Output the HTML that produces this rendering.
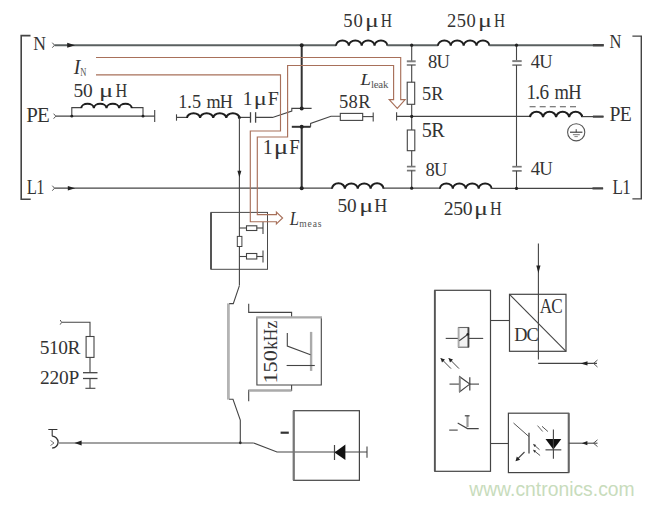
<!DOCTYPE html>
<html><head><meta charset="utf-8"><style>
html,body{margin:0;padding:0;background:#fff;}
svg{display:block;}
</style></head><body>
<svg width="653" height="507" viewBox="0 0 653 507">
<rect width="653" height="507" fill="#fff"/>
<path d="M30.5 35.6 H21.2 V199.2 H30.7" stroke="#444" stroke-width="1.6" fill="none" stroke-linejoin="miter" />
<path d="M632.4 36.1 H641.3 V198.9 H632.4" stroke="#444" stroke-width="1.4" fill="none" stroke-linejoin="miter" />
<text transform="translate(33.17,49.50) scale(0.9083,1)" font-family='"Liberation Serif", serif' font-style="normal" font-size="19.39" fill="#333" style="letter-spacing:0.00px">N</text>
<text transform="translate(26.17,121.70) scale(1.0000,1)" font-family='"Liberation Serif", serif' font-style="normal" font-size="20.92" fill="#333" style="letter-spacing:-0.69px">PE</text>
<text transform="translate(26.80,193.70) scale(0.8062,1)" font-family='"Liberation Serif", serif' font-style="normal" font-size="20.61" fill="#333" style="letter-spacing:-0.80px">L1</text>
<text transform="translate(609.60,48.40) scale(0.8478,1)" font-family='"Liberation Serif", serif' font-style="normal" font-size="19.54" fill="#333" style="letter-spacing:0.00px">N</text>
<text transform="translate(609.51,121.30) scale(0.9554,1)" font-family='"Liberation Serif", serif' font-style="normal" font-size="20.61" fill="#333" style="letter-spacing:-0.80px">PE</text>
<text transform="translate(612.49,194.00) scale(0.8388,1)" font-family='"Liberation Serif", serif' font-style="normal" font-size="20.30" fill="#333" style="letter-spacing:-0.80px">L1</text>
<path d="M52.3 42.7 L54.5 45.2 L52.3 47.7" stroke="#555" stroke-width="1" fill="none" stroke-linejoin="miter" />
<line x1="54.5" y1="45.2" x2="336" y2="45.2" stroke="#5a6060" stroke-width="2" />
<path d="M67.2 42.7 L75 45.2 L67.2 47.7 Z" fill="#222"/>
<path d="M336.00 45.70 A6.42 5.30 0 0 1 348.85 45.70 A6.42 5.30 0 0 1 361.70 45.70 A6.42 5.30 0 0 1 374.55 45.70 A6.42 5.30 0 0 1 387.40 45.70" stroke="#1e1e1e" stroke-width="2.0" fill="none" stroke-linejoin="miter" />
<line x1="387.4" y1="45.2" x2="437.9" y2="45.2" stroke="#5a6060" stroke-width="2" />
<path d="M437.90 45.70 A6.44 5.30 0 0 1 450.77 45.70 A6.44 5.30 0 0 1 463.65 45.70 A6.44 5.30 0 0 1 476.52 45.70 A6.44 5.30 0 0 1 489.40 45.70" stroke="#1e1e1e" stroke-width="2.0" fill="none" stroke-linejoin="miter" />
<line x1="489.4" y1="45.2" x2="603.5" y2="45.2" stroke="#5a6060" stroke-width="2" />
<line x1="592.9" y1="45.2" x2="603.8" y2="45.2" stroke="#444" stroke-width="2.4" />
<text transform="translate(343.28,26.50) scale(1.0000,1)" font-family='"Liberation Serif", serif' font-style="normal" font-size="18.65" fill="#333" style="letter-spacing:0.92px">50</text>
<text transform="translate(364.94,26.50) scale(1.3827,1)" font-family='"Liberation Serif", serif' font-style="normal" font-size="18.65" fill="#333" style="letter-spacing:0.00px">μ</text>
<text transform="translate(380.63,26.50) scale(0.8387,1)" font-family='"Liberation Serif", serif' font-style="normal" font-size="18.65" fill="#333" style="letter-spacing:0.00px">H</text>
<text transform="translate(447.07,26.60) scale(1.0000,1)" font-family='"Liberation Serif", serif' font-style="normal" font-size="18.50" fill="#333" style="letter-spacing:0.41px">250</text>
<text transform="translate(478.02,26.60) scale(1.4070,1)" font-family='"Liberation Serif", serif' font-style="normal" font-size="18.50" fill="#333" style="letter-spacing:0.00px">μ</text>
<text transform="translate(494.04,26.60) scale(0.8293,1)" font-family='"Liberation Serif", serif' font-style="normal" font-size="18.50" fill="#333" style="letter-spacing:0.00px">H</text>
<path d="M52.3 185.7 L54.5 188.2 L52.3 190.7" stroke="#555" stroke-width="1" fill="none" stroke-linejoin="miter" />
<line x1="54.5" y1="188.2" x2="332" y2="188.2" stroke="#444" stroke-width="1.3" />
<path d="M67.8 185.89999999999998 L75.2 188.2 L67.8 190.5 Z" fill="#222"/>
<path d="M332.00 188.70 A6.44 5.40 0 0 1 344.88 188.70 A6.44 5.40 0 0 1 357.75 188.70 A6.44 5.40 0 0 1 370.62 188.70 A6.44 5.40 0 0 1 383.50 188.70" stroke="#1e1e1e" stroke-width="2.0" fill="none" stroke-linejoin="miter" />
<line x1="383.5" y1="188.2" x2="439.9" y2="188.2" stroke="#444" stroke-width="1.3" />
<path d="M439.90 188.70 A6.46 5.20 0 0 1 452.82 188.70 A6.46 5.20 0 0 1 465.75 188.70 A6.46 5.20 0 0 1 478.68 188.70 A6.46 5.20 0 0 1 491.60 188.70" stroke="#1e1e1e" stroke-width="2.0" fill="none" stroke-linejoin="miter" />
<line x1="491.6" y1="188.4" x2="603.1" y2="188.4" stroke="#444" stroke-width="1.3" />
<line x1="592.5" y1="188.4" x2="603.1" y2="188.4" stroke="#444" stroke-width="2.2" />
<text transform="translate(337.45,212.40) scale(1.0000,1)" font-family='"Liberation Serif", serif' font-style="normal" font-size="19.25" fill="#333" style="letter-spacing:-0.12px">50</text>
<text transform="translate(359.22,212.40) scale(1.3520,1)" font-family='"Liberation Serif", serif' font-style="normal" font-size="19.25" fill="#333" style="letter-spacing:0.00px">μ</text>
<text transform="translate(374.26,212.40) scale(0.9375,1)" font-family='"Liberation Serif", serif' font-style="normal" font-size="19.25" fill="#333" style="letter-spacing:0.00px">H</text>
<text transform="translate(443.81,214.70) scale(1.0000,1)" font-family='"Liberation Serif", serif' font-style="normal" font-size="19.70" fill="#333" style="letter-spacing:-0.39px">250</text>
<text transform="translate(474.02,214.70) scale(1.3211,1)" font-family='"Liberation Serif", serif' font-style="normal" font-size="19.70" fill="#333" style="letter-spacing:0.00px">μ</text>
<text transform="translate(490.01,214.70) scale(0.8244,1)" font-family='"Liberation Serif", serif' font-style="normal" font-size="19.70" fill="#333" style="letter-spacing:0.00px">H</text>
<path d="M53.599999999999994 113.7 L55.8 116.2 L53.599999999999994 118.7" stroke="#555" stroke-width="1" fill="none" stroke-linejoin="miter" />
<line x1="55.8" y1="116.2" x2="154.7" y2="116.2" stroke="#444" stroke-width="1.2" />
<path d="M71.8 116.2 V107.6 H81.2" stroke="#444" stroke-width="1.1" fill="none" stroke-linejoin="miter" />
<path d="M131.8 107.6 H143 V116.2" stroke="#444" stroke-width="1.1" fill="none" stroke-linejoin="miter" />
<path d="M81.20 108.10 A6.33 4.50 0 0 1 93.85 108.10 A6.33 4.50 0 0 1 106.50 108.10 A6.33 4.50 0 0 1 119.15 108.10 A6.33 4.50 0 0 1 131.80 108.10" stroke="#1e1e1e" stroke-width="2.0" fill="none" stroke-linejoin="miter" />
<circle cx="71.8" cy="116.2" r="1.4" fill="#222"/>
<circle cx="143" cy="116.2" r="1.4" fill="#222"/>
<line x1="154.7" y1="110" x2="154.7" y2="122" stroke="#444" stroke-width="1.1" />
<text transform="translate(73.44,97.00) scale(1.0000,1)" font-family='"Liberation Serif", serif' font-style="normal" font-size="19.40" fill="#333" style="letter-spacing:-0.06px">50</text>
<text transform="translate(99.08,97.00) scale(1.3664,1)" font-family='"Liberation Serif", serif' font-style="normal" font-size="19.40" fill="#333" style="letter-spacing:0.00px">μ</text>
<text transform="translate(115.41,97.00) scale(0.8372,1)" font-family='"Liberation Serif", serif' font-style="normal" font-size="19.40" fill="#333" style="letter-spacing:0.00px">H</text>
<line x1="176.5" y1="114.3" x2="176.5" y2="120.7" stroke="#444" stroke-width="1.1" />
<line x1="176.5" y1="117.4" x2="187" y2="117.4" stroke="#444" stroke-width="1.2" />
<path d="M187.00 117.90 A6.55 4.70 0 0 1 200.10 117.90 A6.55 4.70 0 0 1 213.20 117.90 A6.55 4.70 0 0 1 226.30 117.90 A6.55 4.70 0 0 1 239.40 117.90" stroke="#1e1e1e" stroke-width="2.0" fill="none" stroke-linejoin="miter" />
<line x1="239.4" y1="117.4" x2="250.6" y2="117.4" stroke="#444" stroke-width="1.2" />
<line x1="250.5" y1="112.2" x2="250.5" y2="122.7" stroke="#444" stroke-width="1.3" />
<line x1="255.6" y1="112.2" x2="255.6" y2="122.7" stroke="#444" stroke-width="1.3" />
<path d="M255.6 117.4 H272.5 L291.8 111 V108.4 H311.6" stroke="#444" stroke-width="1.1" fill="none" stroke-linejoin="miter" />
<circle cx="239.4" cy="117.4" r="1.5" fill="#222"/>
<text transform="translate(178.15,108.20) scale(1.0000,1)" font-family='"Liberation Serif", serif' font-style="normal" font-size="18.18" fill="#333" style="letter-spacing:0.12px">1.5</text>
<text transform="translate(206.44,108.20) scale(1.0000,1)" font-family='"Liberation Serif", serif' font-style="normal" font-size="18.18" fill="#333" style="letter-spacing:-0.75px">mH</text>
<text transform="translate(242.85,104.70) scale(1.0000,1)" font-family='"Liberation Serif", serif' font-style="normal" font-size="19.39" fill="#333" style="letter-spacing:0.00px">1</text>
<text transform="translate(253.85,104.70) scale(1.2549,1)" font-family='"Liberation Serif", serif' font-style="normal" font-size="19.39" fill="#333" style="letter-spacing:0.00px">μ</text>
<text transform="translate(267.80,104.70) scale(1.0313,1)" font-family='"Liberation Serif", serif' font-style="normal" font-size="19.39" fill="#333" style="letter-spacing:0.00px">F</text>
<text transform="translate(262.80,154.40) scale(1.0000,1)" font-family='"Liberation Serif", serif' font-style="normal" font-size="20.00" fill="#333" style="letter-spacing:0.00px">1</text>
<text transform="translate(273.64,154.40) scale(1.3494,1)" font-family='"Liberation Serif", serif' font-style="normal" font-size="20.00" fill="#333" style="letter-spacing:0.00px">μ</text>
<text transform="translate(289.33,154.40) scale(0.9490,1)" font-family='"Liberation Serif", serif' font-style="normal" font-size="20.00" fill="#333" style="letter-spacing:0.00px">F</text>
<path d="M310.6 126.8 V123.4 L331 116.3 H340.3" stroke="#444" stroke-width="1.1" fill="none" stroke-linejoin="miter" />
<line x1="291.8" y1="126.8" x2="310.6" y2="126.8" stroke="#333" stroke-width="2.0" />
<rect x="340.3" y="113.4" width="22.399999999999977" height="7.0" stroke="#444" stroke-width="1.1" fill="none"/>
<line x1="362.7" y1="116.6" x2="373.2" y2="116.6" stroke="#444" stroke-width="1.1" />
<line x1="373.2" y1="112.5" x2="373.2" y2="121.5" stroke="#444" stroke-width="1.1" />
<text transform="translate(338.89,107.50) scale(1.0000,1)" font-family='"Liberation Serif", serif' font-style="normal" font-size="18.50" fill="#333" style="letter-spacing:0.46px">58R</text>
<line x1="301.7" y1="45.2" x2="301.7" y2="108.4" stroke="#333" stroke-width="2" />
<line x1="301.7" y1="126.8" x2="301.7" y2="188.2" stroke="#333" stroke-width="2" />
<circle cx="301.7" cy="45.2" r="2" fill="#222"/>
<circle cx="301.7" cy="108.4" r="2" fill="#222"/>
<circle cx="301.7" cy="126.8" r="2" fill="#222"/>
<circle cx="301.7" cy="188.2" r="2" fill="#222"/>
<line x1="396.6" y1="112.2" x2="396.6" y2="120.4" stroke="#444" stroke-width="1.1" />
<line x1="396.6" y1="116.4" x2="530" y2="116.4" stroke="#444" stroke-width="1.2" />
<path d="M530.00 117.10 A6.53 5.50 0 0 1 543.05 117.10 A6.53 5.50 0 0 1 556.10 117.10 A6.53 5.50 0 0 1 569.15 117.10 A6.53 5.50 0 0 1 582.20 117.10" stroke="#1e1e1e" stroke-width="2.0" fill="none" stroke-linejoin="miter" />
<line x1="582.2" y1="116.6" x2="603.5" y2="116.6" stroke="#444" stroke-width="1.2" />
<line x1="592.9" y1="116.6" x2="603.5" y2="116.6" stroke="#444" stroke-width="2.2" />
<text transform="translate(526.57,98.50) scale(0.9496,1)" font-family='"Liberation Serif", serif' font-style="normal" font-size="20.15" fill="#333" style="letter-spacing:-0.80px">1.6</text>
<text transform="translate(554.53,98.50) scale(0.9186,1)" font-family='"Liberation Serif", serif' font-style="normal" font-size="20.15" fill="#333" style="letter-spacing:-0.80px">mH</text>
<line x1="529.6" y1="106.8" x2="578.5" y2="106.8" stroke="#555" stroke-width="1.1" stroke-dasharray="6 4.1"/>
<circle cx="576.2" cy="132.3" r="8.6" fill="none" stroke="#555" stroke-width="1.1"/>
<line x1="576.2" y1="129.2" x2="576.2" y2="132.2" stroke="#444" stroke-width="1" />
<line x1="570" y1="132.2" x2="582.4" y2="132.2" stroke="#333" stroke-width="1.1" />
<line x1="572.9" y1="134.7" x2="579.8" y2="134.7" stroke="#777" stroke-width="1" />
<line x1="574.4" y1="136.6" x2="577.8" y2="136.6" stroke="#888" stroke-width="1" />
<line x1="411.7" y1="45.2" x2="411.7" y2="62.0" stroke="#444" stroke-width="1.1" />
<line x1="406.8" y1="61.3" x2="415.7" y2="61.3" stroke="#808080" stroke-width="2.0" />
<line x1="406.8" y1="65.0" x2="415.7" y2="65.0" stroke="#707070" stroke-width="1.5" />
<line x1="411.7" y1="65" x2="411.7" y2="82.2" stroke="#444" stroke-width="1.1" />
<rect x="407.2" y="82.2" width="7.5" height="22.099999999999994" stroke="#444" stroke-width="1.1" fill="none"/>
<line x1="411.7" y1="104.3" x2="411.7" y2="130" stroke="#444" stroke-width="1.1" />
<rect x="407.3" y="130" width="7.5" height="20.69999999999999" stroke="#444" stroke-width="1.1" fill="none"/>
<line x1="411.7" y1="150.7" x2="411.7" y2="166.6" stroke="#444" stroke-width="1.1" />
<line x1="406.9" y1="166.6" x2="415.5" y2="166.6" stroke="#777" stroke-width="1.7" />
<line x1="406.9" y1="170.6" x2="415.5" y2="170.6" stroke="#777" stroke-width="1.7" />
<line x1="411.7" y1="170.5" x2="411.7" y2="188.2" stroke="#444" stroke-width="1.1" />
<circle cx="411.7" cy="45.2" r="1.6" fill="#222"/>
<circle cx="411.7" cy="116.4" r="1.6" fill="#222"/>
<circle cx="411.7" cy="188.2" r="1.6" fill="#222"/>
<text transform="translate(428.06,68.00) scale(0.9433,1)" font-family='"Liberation Serif", serif' font-style="normal" font-size="19.70" fill="#333" style="letter-spacing:-0.80px">8U</text>
<text transform="translate(422.00,99.70) scale(1.0000,1)" font-family='"Liberation Serif", serif' font-style="normal" font-size="18.32" fill="#333" style="letter-spacing:0.16px">5R</text>
<text transform="translate(421.69,137.40) scale(1.0000,1)" font-family='"Liberation Serif", serif' font-style="normal" font-size="20.15" fill="#333" style="letter-spacing:-0.57px">5R</text>
<text transform="translate(425.56,175.70) scale(0.9662,1)" font-family='"Liberation Serif", serif' font-style="normal" font-size="19.25" fill="#333" style="letter-spacing:-0.80px">8U</text>
<line x1="516.5" y1="45.2" x2="516.5" y2="60.7" stroke="#444" stroke-width="1.1" />
<line x1="512.3" y1="61.1" x2="521.7" y2="61.1" stroke="#808080" stroke-width="2.0" />
<line x1="512.3" y1="65.1" x2="521.7" y2="65.1" stroke="#707070" stroke-width="1.5" />
<line x1="516.5" y1="65.1" x2="516.5" y2="166.7" stroke="#444" stroke-width="1.1" />
<line x1="512.3" y1="166.7" x2="521.7" y2="166.7" stroke="#777" stroke-width="1.7" />
<line x1="512.3" y1="170.9" x2="521.7" y2="170.9" stroke="#777" stroke-width="1.7" />
<line x1="516.5" y1="170.9" x2="516.5" y2="188.4" stroke="#444" stroke-width="1.1" />
<circle cx="516.5" cy="45.2" r="1.6" fill="#222"/>
<circle cx="516.5" cy="188.4" r="1.6" fill="#222"/>
<text transform="translate(530.63,67.60) scale(1.0000,1)" font-family='"Liberation Serif", serif' font-style="normal" font-size="18.48" fill="#333" style="letter-spacing:-0.51px">4U</text>
<text transform="translate(530.63,175.40) scale(0.9885,1)" font-family='"Liberation Serif", serif' font-style="normal" font-size="18.94" fill="#333" style="letter-spacing:-0.80px">4U</text>
<line x1="239.4" y1="117.4" x2="239.4" y2="285.6" stroke="#444" stroke-width="1.1" />
<path d="M237.4 170.7 L239.4 177.6 L241.4 170.7 Z" fill="#222"/>
<line x1="228.4" y1="303.4" x2="228.4" y2="399.6" stroke="#b4b4b4" stroke-width="2.8" />
<path d="M239.4 285.6 L233.3 303.6 H229.2" stroke="#444" stroke-width="1.1" fill="none" stroke-linejoin="miter" />
<path d="M229.2 399.3 H233 L240.3 420 V442.8" stroke="#444" stroke-width="1.1" fill="none" stroke-linejoin="miter" />
<circle cx="240.3" cy="442.8" r="1.4" fill="#222"/>
<rect x="211" y="212.4" width="56.5" height="56.900000000000006" stroke="#4a4a4a" stroke-width="1.0" fill="none"/>
<line x1="211" y1="212.4" x2="211" y2="269.3" stroke="#555" stroke-width="2" />
<line x1="239.4" y1="228" x2="263" y2="228" stroke="#444" stroke-width="1.1" />
<rect x="246.5" y="225.8" width="10.300000000000011" height="4.699999999999989" stroke="#444" stroke-width="1.1" fill="#fff"/>
<line x1="263" y1="222" x2="263" y2="234" stroke="#444" stroke-width="1.1" />
<line x1="239.4" y1="256.5" x2="263" y2="256.5" stroke="#444" stroke-width="1.1" />
<rect x="246.5" y="253.5" width="10.300000000000011" height="5.5" stroke="#444" stroke-width="1.1" fill="#fff"/>
<line x1="263" y1="250.5" x2="263" y2="262.5" stroke="#444" stroke-width="1.1" />
<rect x="237.3" y="236.4" width="4.599999999999994" height="10.099999999999994" stroke="#444" stroke-width="1.0" fill="#fff"/>
<path d="M248.7 303.7 V312.4 H291.6 V317.3" stroke="#444" stroke-width="1.1" fill="none" stroke-linejoin="miter" />
<path d="M256.9 317.3 V385 H321.3 V317.3" stroke="#444" stroke-width="1.1" fill="none" stroke-linejoin="miter" />
<line x1="256.2" y1="317.4" x2="322" y2="317.4" stroke="#aaa" stroke-width="2.4" />
<path d="M291.6 385 V390.4 H248.7 V401.3" stroke="#444" stroke-width="1.1" fill="none" stroke-linejoin="miter" />
<line x1="248.7" y1="390.6" x2="291.6" y2="390.6" stroke="#aaa" stroke-width="2.2" />
<g transform="translate(277,381.7) rotate(-90)">
<text transform="translate(-1.91,0.00) scale(1.1496,1)" font-family='"Liberation Serif", serif' font-style="normal" font-size="19.55" fill="#333" style="letter-spacing:0.00px">150</text>
<text transform="translate(31.85,0.00) scale(0.9302,1)" font-family='"Liberation Serif", serif' font-style="normal" font-size="18.71" fill="#333" style="letter-spacing:0.00px">kHz</text>
</g>
<line x1="311.1" y1="331.9" x2="311.1" y2="370.9" stroke="#aaa" stroke-width="2.4" />
<line x1="286.6" y1="365.5" x2="314.8" y2="365.5" stroke="#444" stroke-width="1.1" />
<path d="M287.3 333 V346 L310.5 354.7" stroke="#444" stroke-width="1.1" fill="none" stroke-linejoin="miter" />
<path d="M57.4 429.5 H48.3 M52.2 429.5 V436.2" stroke="#333" stroke-width="1.1" fill="none" stroke-linejoin="miter" />
<path d="M52.2 436.2 A5.9 5.9 0 0 1 52.2 448" stroke="#333" stroke-width="1.3" fill="none" stroke-linejoin="miter" />
<path d="M50.5 440.5 L54 443 L50.5 445.5" stroke="#666" stroke-width="0.9" fill="none" stroke-linejoin="miter" />
<line x1="58.9" y1="443" x2="253.6" y2="443" stroke="#444" stroke-width="1.2" />
<path d="M81.6 440.6 L74.5 443 L81.6 445.4 Z" fill="#222"/>
<path d="M253.6 443 L277 452 H367" stroke="#444" stroke-width="1.1" fill="none" stroke-linejoin="miter" />
<line x1="367" y1="446.5" x2="367" y2="457.7" stroke="#444" stroke-width="1.1" />
<line x1="280.6" y1="432.7" x2="288.8" y2="432.7" stroke="#333" stroke-width="2.2" />
<rect x="293.7" y="410.7" width="65.69999999999999" height="69.60000000000002" stroke="#444" stroke-width="1.2" fill="none"/>
<line x1="293.7" y1="410.7" x2="293.7" y2="480.3" stroke="#777" stroke-width="2.2" />
<path d="M334.5 452.5 L345.4 444.4 V460 Z" fill="#111"/>
<line x1="334.5" y1="445" x2="334.5" y2="460" stroke="#444" stroke-width="1.2" />
<path d="M60.2 320 Q63 322.3 60.2 324.6" stroke="#555" stroke-width="1" fill="none" stroke-linejoin="miter" />
<path d="M62 322.3 H90 V336.5" stroke="#444" stroke-width="1.1" fill="none" stroke-linejoin="miter" />
<rect x="86.1" y="336.5" width="7.900000000000006" height="20.899999999999977" stroke="#444" stroke-width="1.1" fill="none"/>
<path d="M90 357.4 V372.7 M90 378.5 V388.3" stroke="#444" stroke-width="1.1" fill="none" stroke-linejoin="miter" />
<line x1="83" y1="372.7" x2="97.5" y2="372.7" stroke="#444" stroke-width="1.3" />
<line x1="83" y1="378.5" x2="97.5" y2="378.5" stroke="#444" stroke-width="1.3" />
<line x1="85.4" y1="388.3" x2="95.4" y2="388.3" stroke="#444" stroke-width="1.1" />
<text transform="translate(39.64,354.00) scale(1.0000,1)" font-family='"Liberation Serif", serif' font-style="normal" font-size="19.40" fill="#333" style="letter-spacing:-0.38px">510R</text>
<text transform="translate(39.93,384.00) scale(1.0000,1)" font-family='"Liberation Serif", serif' font-style="normal" font-size="19.40" fill="#333" style="letter-spacing:-0.14px">220P</text>
<rect x="434.8" y="290.3" width="55.69999999999999" height="181.0" stroke="#444" stroke-width="1.2" fill="none"/>
<line x1="434.8" y1="290.3" x2="434.8" y2="471.3" stroke="#555" stroke-width="1.8" />
<line x1="490.5" y1="320.5" x2="509.5" y2="320.5" stroke="#444" stroke-width="1.1" />
<line x1="490.5" y1="443.5" x2="508.4" y2="443.5" stroke="#444" stroke-width="1.1" />
<line x1="445.7" y1="338.4" x2="458.5" y2="338.4" stroke="#444" stroke-width="1.1" />
<line x1="468.8" y1="338.4" x2="483.2" y2="338.4" stroke="#444" stroke-width="1.1" />
<rect x="458.5" y="327.5" width="10.100000000000023" height="19.69999999999999" stroke="#666" stroke-width="1.1" fill="#f2f2f2"/>
<line x1="458.6" y1="327.5" x2="458.6" y2="347.2" stroke="#aaa" stroke-width="1.8" />
<line x1="468.4" y1="327.5" x2="468.4" y2="347.2" stroke="#444" stroke-width="1.8" />
<line x1="459.3" y1="340.7" x2="468" y2="334.3" stroke="#444" stroke-width="1.1" />
<circle cx="467.8" cy="334.3" r="1.3" fill="#222"/>
<line x1="441" y1="358.5" x2="451" y2="368.6" stroke="#444" stroke-width="1.0" />
<path d="M440.5 358 L445 359.5 L442 362.5 Z" fill="#222"/>
<line x1="449" y1="358.5" x2="459" y2="368.6" stroke="#444" stroke-width="1.0" />
<path d="M448.5 358 L453 359.5 L450 362.5 Z" fill="#222"/>
<line x1="449.5" y1="384.1" x2="459.7" y2="384.1" stroke="#444" stroke-width="1.1" />
<line x1="469.8" y1="384.1" x2="479" y2="384.1" stroke="#444" stroke-width="1.1" />
<path d="M459.7 376.7 V391.8 L469.8 384.1 Z" stroke="#444" stroke-width="1.1" fill="none" stroke-linejoin="miter" />
<line x1="459.7" y1="376.7" x2="459.7" y2="391.8" stroke="#888" stroke-width="1.8" />
<line x1="469.8" y1="377.2" x2="469.8" y2="390.4" stroke="#444" stroke-width="1.2" />
<line x1="449.2" y1="430.1" x2="457.7" y2="430.1" stroke="#444" stroke-width="1.1" />
<path d="M457.7 423 L467.5 428.6 H478.7" stroke="#444" stroke-width="1.1" fill="none" stroke-linejoin="miter" />
<line x1="467.5" y1="415.6" x2="467.5" y2="427" stroke="#999" stroke-width="2.2" />
<line x1="464.8" y1="415.8" x2="469.6" y2="415.8" stroke="#444" stroke-width="1.2" />
<rect x="509.5" y="294.3" width="56.5" height="57.0" stroke="#444" stroke-width="1.2" fill="none"/>
<line x1="509.5" y1="294.3" x2="566" y2="351.3" stroke="#444" stroke-width="1.1" />
<line x1="538.4" y1="243.6" x2="538.4" y2="359.5" stroke="#444" stroke-width="1.1" />
<path d="M536.3 265.5 L538.4 273.2 L540.5 265.5 Z" fill="#222"/>
<line x1="538.2" y1="363.4" x2="597" y2="363.4" stroke="#444" stroke-width="1.1" />
<path d="M587.5 361.29999999999995 L580.6 363.4 L587.5 365.5 Z" fill="#222"/>
<path d="M597.5 360 L593.5 363.4 L597.5 367" stroke="#555" stroke-width="1" fill="none" stroke-linejoin="miter" />
<text transform="translate(539.63,313.00) scale(0.8462,1)" font-family='"Liberation Serif", serif' font-style="normal" font-size="20.30" fill="#333" style="letter-spacing:-0.80px">AC</text>
<text transform="translate(514.15,340.70) scale(0.9818,1)" font-family='"Liberation Serif", serif' font-style="normal" font-size="18.64" fill="#333" style="letter-spacing:-0.80px">DC</text>
<rect x="508.4" y="413.2" width="60.30000000000007" height="59.400000000000034" stroke="#444" stroke-width="1.2" fill="none"/>
<line x1="568.7" y1="413.2" x2="568.7" y2="472.6" stroke="#666" stroke-width="2" />
<line x1="529" y1="432.8" x2="529" y2="453.6" stroke="#444" stroke-width="1.3" />
<line x1="513.5" y1="423" x2="529" y2="436.7" stroke="#555" stroke-width="1.0" />
<line x1="524.5" y1="452" x2="516.5" y2="460" stroke="#444" stroke-width="1.1" />
<path d="M515.5 461.2 L516.8 456.6 L520.2 459.8 Z" fill="#222"/>
<line x1="537.5" y1="425.6" x2="542.7" y2="431.5" stroke="#666" stroke-width="1.0" />
<line x1="542" y1="426.3" x2="547.9" y2="431.5" stroke="#555" stroke-width="1.0" />
<line x1="533.6" y1="444.5" x2="539.5" y2="449.7" stroke="#555" stroke-width="1.0" />
<line x1="533.6" y1="450.3" x2="540.1" y2="455.5" stroke="#555" stroke-width="1.0" />
<path d="M533.2 444 L536.2 444.9 L534.3 446.9 Z" fill="#333"/>
<path d="M533.2 449.8 L536.2 450.7 L534.3 452.7 Z" fill="#333"/>
<path d="M545.5 439 H561.3 L553.4 449.6 Z" fill="#111"/>
<line x1="545.5" y1="449.8" x2="561.3" y2="449.8" stroke="#777" stroke-width="1.6" />
<line x1="553.4" y1="429.4" x2="553.4" y2="458.8" stroke="#444" stroke-width="1.1" />
<line x1="568.7" y1="443.2" x2="597.5" y2="443.2" stroke="#444" stroke-width="1.1" />
<path d="M587.4 441.09999999999997 L581.9 443.2 L587.4 445.3 Z" fill="#222"/>
<path d="M597.5 439.8 L593.5 443.2 L597.5 446.6" stroke="#555" stroke-width="1" fill="none" stroke-linejoin="miter" />
<path d="M96 57.5 H400.7 V99.6 H405.1 L397.3 108.3 L389.2 99.6 H393.6 V65.5 H287.6 V137 H257.3 V214.6 H276.4 V212 L282.6 218 L276.4 224 V221.7 H250.3 V131 H280.5 V74.8 H96" stroke="#a8705a" stroke-width="1.15" fill="none" stroke-linejoin="miter" />
<text transform="translate(73.80,73.50) scale(0.9718,1)" font-family='"Liberation Serif", serif' font-style="italic" font-size="20.31" fill="#333" style="letter-spacing:0.00px">I</text>
<text transform="translate(80.34,75.50) scale(0.7237,1)" font-family='"Liberation Serif", serif' font-style="normal" font-size="11.76" fill="#555" style="letter-spacing:0.00px">N</text>
<text transform="translate(360.39,84.60) scale(1.0828,1)" font-family='"Liberation Serif", serif' font-style="italic" font-size="17.40" fill="#333" style="letter-spacing:0.00px">L</text>
<text transform="translate(371.08,88.20) scale(1.0000,1)" font-family='"Liberation Serif", serif' font-style="normal" font-size="10.94" fill="#555" style="letter-spacing:-0.30px">leak</text>
<text transform="translate(289.67,225.00) scale(0.8953,1)" font-family='"Liberation Serif", serif' font-style="italic" font-size="18.47" fill="#333" style="letter-spacing:0.00px">L</text>
<text transform="translate(299.31,227.40) scale(1.0000,1)" font-family='"Liberation Serif", serif' font-style="normal" font-size="9.57" fill="#555" style="letter-spacing:0.85px">meas</text>
<text transform="translate(469.20,496.40) scale(1.0000,1)" font-family='"Liberation Sans", sans-serif' font-style="normal" font-size="19.31" fill="#c8dcbc" style="letter-spacing:0.02px">www.cntronics.com</text>
</svg>
</body></html>
